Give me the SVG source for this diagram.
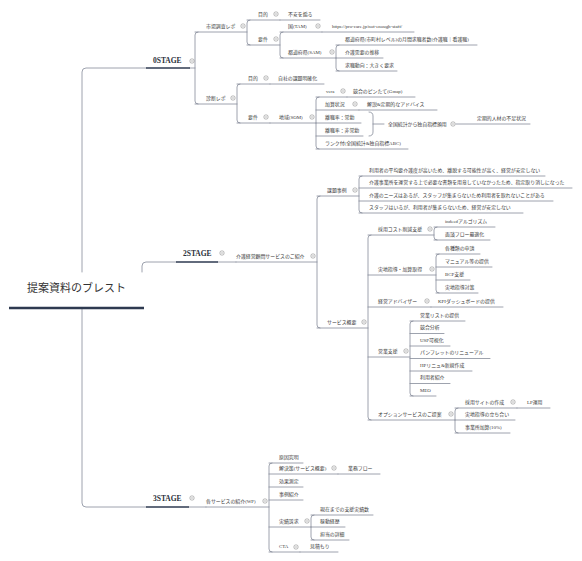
<svg xmlns="http://www.w3.org/2000/svg" xmlns:xlink="http://www.w3.org/1999/xlink" width="582" height="561" viewBox="0 0 582 561">
<defs>
<style>
.t{font-family:"Liberation Serif","Noto Sans CJK JP",serif;font-size:4.9px;fill:#3a3a3a}
.st{font-family:"Liberation Serif","Noto Sans CJK JP",serif;font-size:7.5px;font-weight:bold;fill:#2a2f3a}
.rt{font-family:"Liberation Serif","Noto Sans CJK JP",serif;font-size:11px;fill:#333}
.l{fill:none;stroke:#858c99;stroke-width:0.8;stroke-linecap:round}
.k{fill:none;stroke:#2e3a50;stroke-width:1.7}
.kr{fill:none;stroke:#2e3a50;stroke-width:2.6}
</style>
<symbol id="col" viewBox="-3 -3 6 6" width="6" height="6" overflow="visible">
<circle r="2.2" fill="#fff" stroke="#777" stroke-width="0.5"/>
<path d="M-1.2,0H1.2" stroke="#777" stroke-width="0.5"/>
</symbol>
</defs>
<rect width="582" height="561" fill="#fff"/>

<g id="connectors">
<path class="l" d="M146,68H86Q82,68 82,72V272"/>
<path class="l" d="M82,308V503Q82,507 86,507H146"/>
<path class="l" d="M142,272V266Q142,262 146,262H176"/>
<!-- 0STAGE trunks -->
<path class="l" d="M190,68H195"/>
<path class="l" d="M198,32Q195,32 195,35V101Q195,104 198,104"/>
<path class="l" d="M250,20Q247,20 247,23V42Q247,45 250,45"/>
<path class="l" d="M283,32Q280,32 280,35V55Q280,58 283,58"/>
<path class="l" d="M339,45Q336,45 336,48V68Q336,71 339,71"/>
<path class="l" d="M240,84Q237,84 237,87V120Q237,123 240,123"/>
<path class="l" d="M319,97Q316,97 316,100V146Q316,149 319,149"/>
<path class="l" d="M369,112Q373,112 373,116V132Q373,136 369,136M373,124H384"/>
<!-- 2STAGE trunks -->
<path class="l" d="M218,262H236"/>
<path class="l" d="M320,196Q317,196 317,199V325Q317,328 320,328"/>
<path class="l" d="M362,176Q359,176 359,179V210Q359,213 362,213"/>
<path class="l" d="M371,235Q368,235 368,238V417Q368,420 371,420"/>
<path class="l" d="M437,227Q434,227 434,230V237Q434,240 437,240"/>
<path class="l" d="M439,254Q436,254 436,257V290Q436,293 439,293"/>
<path class="l" d="M413,321Q410,321 410,324V393Q410,396 413,396"/>
<path class="l" d="M458,408Q455,408 455,411V430Q455,433 458,433"/>
<!-- 3STAGE trunks -->
<path class="l" d="M189,507H206"/>
<path class="l" d="M272,463Q269,463 269,466V549Q269,552 272,552"/>
<path class="l" d="M314,515Q311,515 311,518V537Q311,540 314,540"/>
</g>

<g id="root">
<text class="rt" x="27" y="292">提案資料のブレスト</text>
<path class="kr" d="M9,308H144"/>
</g>

<g id="stage0">
<text class="st" x="153" y="63">0STAGE</text>
<path class="k" d="M146,68H190"/>
<use xlink:href="#col" x="189" y="58"/>
</g>
<g id="n-shijou">
<text class="t" x="206" y="27.5">市場調査レポ</text>
<path class="l" d="M195,32H247"/>
<use xlink:href="#col" x="240" y="23"/>
</g>
<g id="n-mokuteki1">
<text class="t" x="258" y="15.5">目的</text>
<path class="l" d="M247,20H280"/>
<use xlink:href="#col" x="273" y="11"/>
</g>
<g id="n-fuan">
<text class="t" x="288" y="15.5">不安を煽る</text>
<path class="l" d="M280,20H320"/>
</g>
<g id="n-youken1">
<text class="t" x="258" y="40.5">要件</text>
<path class="l" d="M247,45H280"/>
<use xlink:href="#col" x="273" y="36"/>
</g>
<g id="n-tam">
<text class="t" x="288" y="27.5">国(TAM)</text>
<path class="l" d="M280,32H322"/>
<use xlink:href="#col" x="315" y="23"/>
</g>
<g id="n-url">
<text class="t" x="332" y="27.5">https://pro-care.jp/not-enough-staff/</text>
<path class="l" d="M322,32H414"/>
</g>
<g id="n-sam">
<text class="t" x="288" y="53.5">都道府県(SAM)</text>
<path class="l" d="M280,58H336"/>
<use xlink:href="#col" x="329" y="49"/>
</g>
<g id="n-sam1">
<text class="t" x="345" y="40.5">都道府県(市町村レベル)の月間求職者数(介護職｜看護職)</text>
<path class="l" d="M336,45H477"/>
</g>
<g id="n-sam2">
<text class="t" x="345" y="53.5">介護需要の推移</text>
<path class="l" d="M336,58H383"/>
</g>
<g id="n-sam3">
<text class="t" x="345" y="66.5">求職動向：大きく要求</text>
<path class="l" d="M336,71H397"/>
</g>
<g id="n-shindan">
<text class="t" x="206" y="99.5">診断レポ</text>
<path class="l" d="M195,104H237"/>
<use xlink:href="#col" x="230" y="95"/>
</g>
<g id="n-mokuteki2">
<text class="t" x="248" y="79.5">目的</text>
<path class="l" d="M237,84H270"/>
<use xlink:href="#col" x="263" y="75"/>
</g>
<g id="n-jisha">
<text class="t" x="278" y="79.5">自社の課題明確化</text>
<path class="l" d="M270,84H324"/>
</g>
<g id="n-youken2">
<text class="t" x="248" y="118.5">要件</text>
<path class="l" d="M237,123H270"/>
<use xlink:href="#col" x="263" y="114"/>
</g>
<g id="n-som">
<text class="t" x="279" y="118.5">地域(SOM)</text>
<path class="l" d="M270,123H316"/>
<use xlink:href="#col" x="309" y="114"/>
</g>
<g id="n-vera">
<text class="t" x="326" y="92.5">vera</text>
<path class="l" d="M316,97H347"/>
<use xlink:href="#col" x="340" y="88"/>
</g>
<g id="n-gmap">
<text class="t" x="353" y="92.5">競合のピンたて(Gmap)</text>
<path class="l" d="M347,97H415"/>
</g>
<g id="n-kasan">
<text class="t" x="325" y="105.5">加算状況</text>
<path class="l" d="M316,110H359"/>
<use xlink:href="#col" x="352" y="101"/>
</g>
<g id="n-kaisetsu">
<text class="t" x="367" y="105.5">解説&amp;定期的なアドバイス</text>
<path class="l" d="M359,110H437"/>
</g>
<g id="n-rishoku1">
<text class="t" x="325" y="118.5">離職率：常勤</text>
<path class="l" d="M316,123H361"/>
</g>
<g id="n-rishoku2">
<text class="t" x="325" y="131.5">離職率：非常勤</text>
<path class="l" d="M316,136H363"/>
</g>
<g id="n-rank">
<text class="t" x="325" y="144.5">ランク付(全国統計&amp;独自指標ABC)</text>
<path class="l" d="M316,149H408"/>
</g>
<g id="n-summary">
<text class="t" x="388" y="125.7">全国統計から独自指標頒用</text>
<use xlink:href="#col" x="450" y="121"/>
</g>
<g id="n-teiki">
<text class="t" x="477" y="119.5">定期的人材の不足状況</text>
<path class="l" d="M456,124H530"/>
</g>

<g id="stage2">
<text class="st" x="183" y="256">2STAGE</text>
<path class="k" d="M176,262H218"/>
<use xlink:href="#col" x="219" y="250"/>
</g>
<g id="n-kaigo">
<text class="t" x="236" y="257.5">介護経営顧問サービスのご紹介</text>
<path class="l" d="M236,262H317"/>
<use xlink:href="#col" x="310" y="253"/>
</g>
<g id="n-kadai">
<text class="t" x="327" y="191.5">課題事例</text>
<path class="l" d="M317,196H359"/>
<use xlink:href="#col" x="352" y="187"/>
</g>
<g id="n-k1">
<text class="t" x="369" y="171.5">利用者の平均要介護度が高いため、離脱する可能性が高く、経営が安定しない</text>
<path class="l" d="M359,176H545"/>
</g>
<g id="n-k2">
<text class="t" x="369" y="183.5">介護事業所を運営する上で必要な書類を用意していなかったため、指定取り消しになった</text>
<path class="l" d="M359,188H572"/>
</g>
<g id="n-k3">
<text class="t" x="369" y="196.5">介護のニーズはあるが、スタッフが集まらないため利用者を取れないことがある</text>
<path class="l" d="M359,201H553"/>
</g>
<g id="n-k4">
<text class="t" x="369" y="208.5">スタッフはいるが、利用者が集まらないため、経営が安定しない</text>
<path class="l" d="M359,213H523"/>
</g>
<g id="n-service">
<text class="t" x="327" y="323.5">サービス概要</text>
<path class="l" d="M317,328H368"/>
<use xlink:href="#col" x="361" y="319"/>
</g>
<g id="n-saiyou">
<text class="t" x="378" y="230.5">採用コスト削減支援</text>
<path class="l" d="M368,235H434"/>
<use xlink:href="#col" x="427" y="226"/>
</g>
<g id="n-indeed">
<text class="t" x="445" y="222.5">indeedアルゴリズム</text>
<path class="l" d="M434,227H495"/>
</g>
<g id="n-mendan">
<text class="t" x="445" y="235.5">面談フロー最適化</text>
<path class="l" d="M434,240H490"/>
</g>
<g id="n-jicchi">
<text class="t" x="378" y="270.5">実地指導・加算取得</text>
<path class="l" d="M368,275H436"/>
<use xlink:href="#col" x="429" y="266"/>
</g>
<g id="n-shinsei">
<text class="t" x="445" y="249.5">各種類の申請</text>
<path class="l" d="M436,254H480"/>
</g>
<g id="n-manual">
<text class="t" x="445" y="262.5">マニュアル等の提供</text>
<path class="l" d="M436,267H492"/>
</g>
<g id="n-bcp">
<text class="t" x="445" y="275.5">BCP支援</text>
<path class="l" d="M436,280H470"/>
</g>
<g id="n-taisaku">
<text class="t" x="445" y="288.5">実地指導対策</text>
<path class="l" d="M436,293H478"/>
</g>
<g id="n-advisor">
<text class="t" x="378" y="302.5">経営アドバイザー</text>
<path class="l" d="M368,307H431"/>
<use xlink:href="#col" x="424" y="298"/>
</g>
<g id="n-kpi">
<text class="t" x="438" y="302.5">KPIダッシュボードの提供</text>
<path class="l" d="M431,307H503"/>
</g>
<g id="n-eigyou">
<text class="t" x="378" y="352.5">営業支援</text>
<path class="l" d="M368,357H410"/>
<use xlink:href="#col" x="403" y="348"/>
</g>
<g id="n-e1">
<text class="t" x="420" y="316.5">営業リストの提供</text>
<path class="l" d="M410,321H465"/>
</g>
<g id="n-e2">
<text class="t" x="420" y="329">競合分析</text>
<path class="l" d="M410,333.5H444"/>
</g>
<g id="n-e3">
<text class="t" x="420" y="341.5">USP可視化</text>
<path class="l" d="M410,346H450"/>
</g>
<g id="n-e4">
<text class="t" x="420" y="354">パンフレットのリニューアル</text>
<path class="l" d="M410,358.5H490"/>
</g>
<g id="n-e5">
<text class="t" x="420" y="366.5">HPリニュ&amp;新規作成</text>
<path class="l" d="M410,371H472"/>
</g>
<g id="n-e6">
<text class="t" x="420" y="379">利用者紹介</text>
<path class="l" d="M410,383.5H450"/>
</g>
<g id="n-e7">
<text class="t" x="420" y="391.5">MEO</text>
<path class="l" d="M410,396H436"/>
</g>
<g id="n-option">
<text class="t" x="378" y="415.5">オプションサービスのご提案</text>
<path class="l" d="M368,420H455"/>
<use xlink:href="#col" x="448" y="411"/>
</g>
<g id="n-o1">
<text class="t" x="465" y="403.5">採用サイトの作成</text>
<path class="l" d="M455,408H517"/>
<use xlink:href="#col" x="510" y="399"/>
</g>
<g id="n-lp">
<text class="t" x="527" y="403.5">LP運用</text>
<path class="l" d="M517,408H550"/>
</g>
<g id="n-o2">
<text class="t" x="465" y="415.5">実地指導の立ち合い</text>
<path class="l" d="M455,420H515"/>
</g>
<g id="n-o3">
<text class="t" x="465" y="428.5">事業所加算(10%)</text>
<path class="l" d="M455,433H510"/>
</g>

<g id="stage3">
<text class="st" x="153" y="501">3STAGE</text>
<path class="k" d="M146,507H189"/>
<use xlink:href="#col" x="189" y="495"/>
</g>
<g id="n-wp">
<text class="t" x="206" y="502.5">各サービスの紹介(WP)</text>
<path class="l" d="M206,507H269"/>
<use xlink:href="#col" x="262" y="498"/>
</g>
<g id="n-genin">
<text class="t" x="279" y="458.5">原因究明</text>
<path class="l" d="M269,463H303"/>
</g>
<g id="n-kaiketsu">
<text class="t" x="279" y="469.5">解決策(サービス概要)</text>
<path class="l" d="M269,474H338"/>
<use xlink:href="#col" x="331" y="465"/>
</g>
<g id="n-gyoumu">
<text class="t" x="348" y="469.5">業務フロー</text>
<path class="l" d="M338,474H380"/>
</g>
<g id="n-kouka">
<text class="t" x="279" y="482.5">効果測定</text>
<path class="l" d="M269,487H303"/>
</g>
<g id="n-jirei">
<text class="t" x="279" y="495.5">事例紹介</text>
<path class="l" d="M269,500H303"/>
</g>
<g id="n-jisseki">
<text class="t" x="279" y="522.5">実績訴求</text>
<path class="l" d="M269,527H311"/>
<use xlink:href="#col" x="304" y="518"/>
</g>
<g id="n-j1">
<text class="t" x="320" y="510.5">現在までの支援実績数</text>
<path class="l" d="M311,515H373"/>
</g>
<g id="n-j2">
<text class="t" x="320" y="522.5">稼動経歴</text>
<path class="l" d="M311,527H345"/>
</g>
<g id="n-j3">
<text class="t" x="320" y="535.5">担当の詳細</text>
<path class="l" d="M311,540H349"/>
</g>
<g id="n-cta">
<text class="t" x="279" y="547.5">CTA</text>
<path class="l" d="M269,552H300"/>
<use xlink:href="#col" x="293" y="544"/>
</g>
<g id="n-mitsumori">
<text class="t" x="310" y="547.5">見積もり</text>
<path class="l" d="M300,552H338"/>
</g>
</svg>
